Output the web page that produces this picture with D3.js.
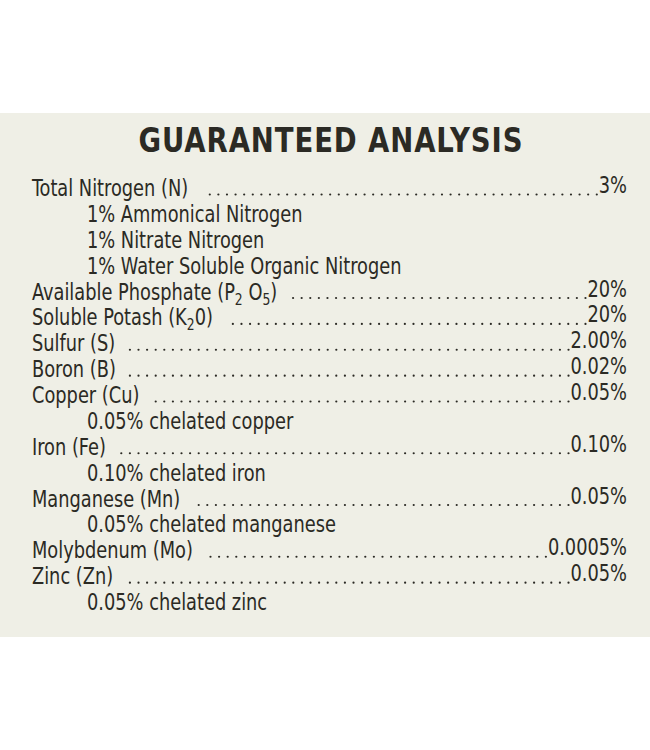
<!DOCTYPE html>
<html><head><meta charset="utf-8">
<script src="https://cdn.jsdelivr.net/npm/d3@7"></script>
<style>body{margin:0;background:#fff}</style></head>
<body><svg id="c" width="650" height="750"></svg>
<script>
const title = "GUARANTEED ANALYSIS";
// each row: [label parts, value, indented]
const rowLabels = [
  [["Total Nitrogen (N)"]], [["1% Ammonical Nitrogen"]], [["1% Nitrate Nitrogen"]],
  [["1% Water Soluble Organic Nitrogen"]],
  [["Available Phosphate (P"], ["2", "sub"], [" O"], ["5", "sub"], [")"]],
  [["Soluble Potash (K"], ["2", "sub"], ["0)"]],
  [["Sulfur (S)"]], [["Boron (B)"]], [["Copper (Cu)"]], [["0.05% chelated copper"]],
  [["Iron (Fe)"]], [["0.10% chelated iron"]], [["Manganese (Mn)"]], [["0.05% chelated manganese"]],
  [["Molybdenum (Mo)"]], [["Zinc (Zn)"]], [["0.05% chelated zinc"]]
];
const rowValues = ["3%", null, null, null, "20%", "20%", "2.00%", "0.02%", "0.05%", null,
  "0.10%", null, "0.05%", null, "0.0005%", "0.05%", null];
const rowIndent = [0, 1, 1, 1, 0, 0, 0, 0, 0, 1, 0, 1, 0, 1, 0, 0, 1];

const font = "'Liberation Sans Narrow','DejaVu Sans Condensed',sans-serif";
const ink = "#2b2a24";
const sx = 0.86;
const svg = d3.select("#c");
svg.append("rect").attr("x", 0).attr("y", 113).attr("width", 650).attr("height", 524).attr("fill", "#efefe6");
svg.append("text").attr("transform", "translate(331,152) scale(0.9,1)").attr("text-anchor", "middle")
  .attr("font-family", font).attr("font-weight", "bold").attr("font-size", 34)
  .attr("fill", ink).attr("letter-spacing", 1).text(title);

const y = d3.scaleLinear().domain([0, rowLabels.length - 1]).range([196, 610]);
const rightX = 627;
rowLabels.forEach((parts, i) => {
  const t = svg.append("text").attr("transform", `translate(${rowIndent[i] ? 87 : 32},${y(i)}) scale(${sx},1)`)
    .attr("font-family", font).attr("font-size", 23).attr("fill", ink);
  parts.forEach(p => {
    const s = t.append("tspan").text(p[0]);
    if (p[1]) s.attr("font-size", 16).attr("dy", 5);
    else if (t.selectAll("tspan").size() > 1) s.attr("dy", -5);
  });
  if (rowValues[i]) {
    const v = svg.append("text").attr("transform", `translate(${rightX},${y(i) - 3}) scale(${sx},1)`)
      .attr("text-anchor", "end")
      .attr("font-family", font).attr("font-size", 23).attr("fill", ink).text(rowValues[i]);
    const x0 = t.node().getBoundingClientRect().right + 14;
    const x1 = v.node().getBoundingClientRect().left - 2;
    const n = Math.floor((x1 - x0) / 8.6);
    svg.append("g").selectAll("circle").data(d3.range(n + 1)).join("circle")
      .attr("cx", k => x1 - k * 8.6).attr("cy", y(i) - 1.5).attr("r", 1.1).attr("fill", ink);
  }
});
</script></body></html>
